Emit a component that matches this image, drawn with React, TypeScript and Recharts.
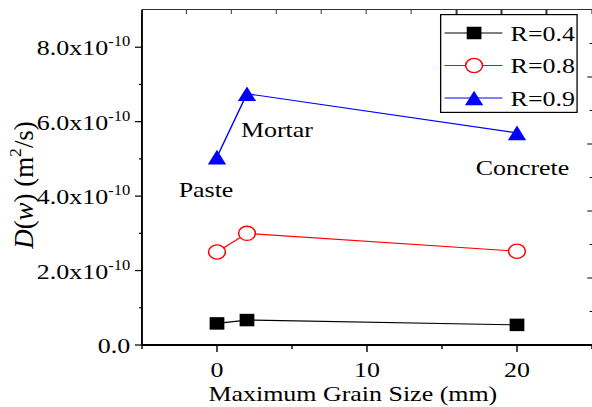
import {
  LineChart,
  Line,
  XAxis,
  YAxis,
  Legend,
  LabelList,
  Label,
} from "recharts";

// grain size (mm) and diffusivity D(w) in m^2/s for each R
const grainSize = [0, 2, 20];
const materials = ["Paste", "Mortar", "Concrete"];
const dR04 = [0.58e-10, 0.67e-10, 0.54e-10];
const dR08 = [2.5e-10, 3.0e-10, 2.52e-10];
const dR09 = [5.05e-10, 6.75e-10, 5.7e-10];
const seriesNames = ["R=0.4", "R=0.8", "R=0.9"];

const yMax = 9e-10;
const yTicks = [0, 2e-10, 4e-10, 6e-10, 8e-10];
const yMinorTicks = [1e-10, 3e-10, 5e-10, 7e-10];
const xTicks = [0, 10, 20];
const xMinorTicks = [-5, 5, 15, 25];
const topTickCount = 10;
const rightMajorTicks = [2, 4, 6, 8];
const rightMinorTicks = [1, 3, 5, 7, 9];

const rows = grainSize.map((g, i) => ({
  g,
  material: materials[i],
  r04: dR04[i],
  r08: dR08[i],
  r09: dR09[i],
}));

const byValue = (a: number, b: number) => a - b;
const xAllTicks = [...xTicks, ...xMinorTicks].sort(byValue);
const yAllTicks = [...yTicks, ...yMinorTicks].sort(byValue);
const rightAllTicks = [...rightMajorTicks, ...rightMinorTicks].sort(byValue);

const FONT = "Liberation Serif, Times New Roman, serif";
const STRETCH = 592 / 502;
const W = 502;
const H = 407;
const PLOT_LEFT = 120.4;
const PLOT_TOP = 10;

// text offsets of the material names from the R=0.9 points
const materialLabelOffsets = [
  [-9.3, 40],
  [25.4, 43],
  [4.7, 42],
];

const txt = { fontFamily: FONT, fontSize: 22 };

function Square({ cx, cy, color }: any) {
  return <rect x={cx - 6.25} y={cy - 6.25} width={12.5} height={12.5} fill={color} />;
}

function Circle({ cx, cy, color }: any) {
  return <circle cx={cx} cy={cy} r={7.1} fill="#fff" stroke={color} strokeWidth={1.3} />;
}

function Triangle({ cx, cy, color }: any) {
  const w = 15.5;
  const h = 14.7;
  return (
    <polygon
      points={`${cx},${cy - h / 2} ${cx - w / 2},${cy + h / 2} ${cx + w / 2},${cy + h / 2}`}
      fill={color}
    />
  );
}

const markers: Record<string, any> = { r04: Square, r08: Circle, r09: Triangle };
const colors: Record<string, string> = { r04: "#000000", r08: "#ff0000", r09: "#0000ff" };

function makeDot(key: string) {
  const M = markers[key];
  return (p: any) => <M key={`${key}-${p.index}`} cx={p.cx} cy={p.cy} color={colors[key]} />;
}

// tick marks are drawn here so major and minor ones can differ in length
function BottomTick({ x, y, payload }: any) {
  const major = xTicks.includes(payload.value);
  return (
    <g>
      <line x1={x} x2={x} y1={y} y2={y + (major ? 7 : 4)} stroke="#000" strokeWidth={1.2} />
      {major && (
        <text x={x} y={y + 32} textAnchor="middle" style={txt} fill="#000">
          {payload.value}
        </text>
      )}
    </g>
  );
}

function LeftTick({ x, y, payload }: any) {
  const major = yTicks.includes(payload.value);
  const m = payload.value / 1e-10;
  return (
    <g>
      <line x1={x - (major ? 6 : 2.5)} x2={x} y1={y} y2={y} stroke="#000" strokeWidth={1.2} />
      {major && (
        <text x={x - 10} y={y + 8} textAnchor="end" style={txt} fill="#000">
          {m.toFixed(1)}
          {m !== 0 && "x10"}
          {m !== 0 && (
            <tspan dy={-9} style={{ fontSize: 14 }}>
              -10
            </tspan>
          )}
        </text>
      )}
    </g>
  );
}

function RightTick({ x, y, payload }: any) {
  const major = rightMajorTicks.includes(payload.value);
  return <line x1={x - (major ? 4 : 2)} x2={x} y1={y} y2={y} stroke="#000" strokeWidth={1} />;
}

function MaterialLabel({ x, y, value, index }: any) {
  const [dx, dy] = materialLabelOffsets[index];
  return (
    <text x={x + dx} y={y + dy} textAnchor="middle" style={txt} fill="#000">
      {value}
    </text>
  );
}

function YTitle({ viewBox }: any) {
  const x = viewBox.x + 28;
  const y = 185;
  return (
    <text
      x={0}
      y={0}
      transform={`translate(${x}, ${y}) rotate(-90) scale(1.17, 1)`}
      textAnchor="middle"
      style={{ fontFamily: FONT, fontSize: 23 }}
      fill="#000"
    >
      <tspan fontStyle="italic">D</tspan>(<tspan fontStyle="italic">w</tspan>) (m
      <tspan dy={-10} style={{ fontSize: 15 }}>2</tspan>
      <tspan dy={10}>/s)</tspan>
    </text>
  );
}

function XTitle({ viewBox }: any) {
  return (
    <text
      x={viewBox.x + viewBox.width / 2 - 12}
      y={viewBox.y + viewBox.height - 6}
      textAnchor="middle"
      style={txt}
      fill="#000"
    >
      Maximum Grain Size (mm)
    </text>
  );
}

function LegendBox({ payload }: any) {
  return (
    <svg width={117} height={99} style={{ display: "block" }}>
      <rect x={0.6} y={0.6} width={115.8} height={97.8} fill="#fff" stroke="#000" strokeWidth={1.2} />
      {(payload || []).map((entry: any, i: number) => {
        const key = entry.dataKey as string;
        const M = markers[key];
        const cy = 19 + i * 32.5;
        return (
          <g key={key}>
            <line x1={4} x2={53} y1={cy} y2={cy} stroke={colors[key]} strokeWidth={1.2} />
            <M cx={29} cy={cy} color={colors[key]} />
            <text x={60} y={cy + 8} style={txt} fill="#000">
              {entry.value}
            </text>
          </g>
        );
      })}
    </svg>
  );
}

export default function App() {
  const topStep = (W - PLOT_LEFT) / topTickCount;
  return (
    <div
      style={{
        position: "absolute",
        left: 0,
        top: 0,
        width: W,
        height: H,
        background: "#fff",
        fontFamily: FONT,
        transform: `scaleX(${STRETCH})`,
        transformOrigin: "0 0",
      }}
    >
      <LineChart width={W} height={H} data={rows} margin={{ top: PLOT_TOP, right: 0, bottom: 0, left: 0 }}>
        <XAxis
          xAxisId="main"
          dataKey="g"
          type="number"
          domain={[-5, 25]}
          allowDataOverflow
          ticks={xAllTicks}
          interval={0}
          height={62}
          tickSize={0}
          tickMargin={0}
          tickLine={false}
          axisLine={{ stroke: "#000", strokeWidth: 1.8 }}
          tick={BottomTick}
        >
          <Label content={XTitle} />
        </XAxis>
        <YAxis
          yAxisId="main"
          type="number"
          domain={[0, yMax]}
          allowDataOverflow
          ticks={yAllTicks}
          interval={0}
          width={PLOT_LEFT}
          tickSize={0}
          tickMargin={0}
          tickLine={false}
          axisLine={{ stroke: "#000", strokeWidth: 1.6 }}
          tick={LeftTick}
        >
          <Label content={YTitle} />
        </YAxis>
        <YAxis
          yAxisId="right"
          orientation="right"
          type="number"
          domain={[0, 10]}
          allowDataOverflow
          ticks={rightAllTicks}
          interval={0}
          mirror
          width={1}
          tickSize={0}
          tickMargin={0}
          tickLine={false}
          tick={RightTick}
          axisLine={false}
        />
        <Legend
          layout="vertical"
          align="center"
          verticalAlign="middle"
          wrapperStyle={{ left: 373, top: 14, width: 117, height: 99 }}
          content={LegendBox}
        />
        <Line
          xAxisId="main"
          yAxisId="main"
          dataKey="r04"
          name={seriesNames[0]}
          stroke={colors.r04}
          strokeWidth={1.2}
          dot={makeDot("r04")}
          isAnimationActive={false}
        />
        <Line
          xAxisId="main"
          yAxisId="main"
          dataKey="r08"
          name={seriesNames[1]}
          stroke={colors.r08}
          strokeWidth={1.2}
          dot={makeDot("r08")}
          isAnimationActive={false}
        />
        <Line
          xAxisId="main"
          yAxisId="main"
          dataKey="r09"
          name={seriesNames[2]}
          stroke={colors.r09}
          strokeWidth={1.2}
          dot={makeDot("r09")}
          isAnimationActive={false}
        >
          <LabelList dataKey="material" content={MaterialLabel} />
        </Line>
      </LineChart>
      {/* top edge of the frame with evenly spaced inward ticks */}
      <div
        style={{
          position: "absolute",
          left: PLOT_LEFT,
          top: PLOT_TOP - 0.6,
          width: W - PLOT_LEFT,
          height: 4.6,
          borderTop: "1.3px solid #333",
          boxSizing: "border-box",
          backgroundImage: `repeating-linear-gradient(to right, #333 0px, #333 1px, transparent 1px, transparent ${topStep}px)`,
          backgroundPosition: `${-0.5}px 0`,
          pointerEvents: "none",
          zIndex: 2,
        }}
      />
    </div>
  );
}
